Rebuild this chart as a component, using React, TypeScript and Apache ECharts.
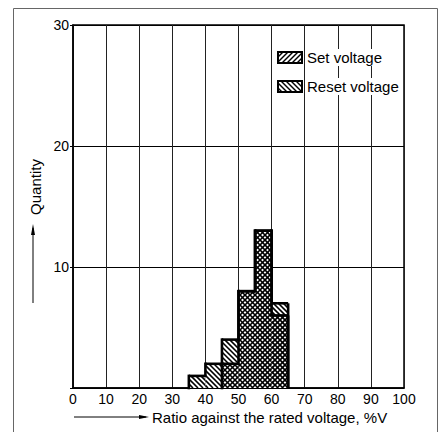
import React, { useEffect, useRef } from "react";
import * as echarts from "echarts";

const binStarts = [35, 40, 45, 50, 55, 60];
const binWidth = 5;
const resetVoltage = [1, 2, 4, 8, 13, 7];
const setVoltage = [0, 0, 2, 8, 13, 6];
const xTicks = [0, 10, 20, 30, 40, 50, 60, 70, 80, 90, 100];
const yTicks = [0, 10, 20, 30];

const FONT = "Liberation Sans, Arial, Helvetica, sans-serif";
const HATCH = 5;

type Seg = [number, number, number, number];

// dir = 1: "////" lines (x + y = c); dir = -1: "\\\\" lines (x - y = c)
function hatchSegments(x0: number, y0: number, x1: number, y1: number, dir: number, step: number): Seg[] {
  const segs: Seg[] = [];
  if (x1 - x0 <= 0.5 || y1 - y0 <= 0.5) return segs;
  if (dir === 1) {
    const cMin = x0 + y0, cMax = x1 + y1;
    for (let c = Math.ceil(cMin / step) * step; c <= cMax; c += step) {
      const xs = Math.max(x0, c - y1), xe = Math.min(x1, c - y0);
      if (xe - xs > 0.3) segs.push([xs, c - xs, xe, c - xe]);
    }
  } else {
    const cMin = x0 - y1, cMax = x1 - y0;
    for (let c = Math.ceil(cMin / step) * step; c <= cMax; c += step) {
      const xs = Math.max(x0, c + y0), xe = Math.min(x1, c + y1);
      if (xe - xs > 0.3) segs.push([xs, xs - c, xe, xe - c]);
    }
  }
  return segs;
}

function makeRenderItem(values: number[], dir: number, fill: string) {
  return (params: any, api: any) => {
    const idx = params.dataIndex;
    const xa = api.value(0), xb = api.value(1), v = api.value(2);
    const prev = idx > 0 ? values[idx - 1] : 0;
    const isLast = idx === values.length - 1;
    const pBase = api.coord([xa, 0]);
    const pTop = api.coord([xb, v]);
    const pPrev = api.coord([xa, prev]);
    const x0 = pBase[0], x1 = pTop[0], yb = pBase[1], yt = pTop[1];
    const children: any[] = [];
    if (v > 0) {
      children.push({
        type: "rect",
        shape: { x: x0, y: yt, width: x1 - x0, height: yb - yt },
        style: { fill, stroke: "none" },
      });
      hatchSegments(x0, yt, x1, yb, dir, HATCH).forEach((s) => {
        children.push({
          type: "line",
          shape: { x1: s[0], y1: s[1], x2: s[2], y2: s[3] },
          style: { stroke: "#000", lineWidth: 1.6 },
        });
      });
      children.push({
        type: "line",
        shape: { x1: x0, y1: yt, x2: x1, y2: yt },
        style: { stroke: "#000", lineWidth: 2.6 },
      });
      if (isLast) {
        children.push({
          type: "line",
          shape: { x1: x1, y1: yt, x2: x1, y2: yb },
          style: { stroke: "#000", lineWidth: 2.6 },
        });
      }
    }
    if (v !== prev) {
      children.push({
        type: "line",
        shape: { x1: x0, y1: Math.min(pPrev[1], yt), x2: x0, y2: Math.max(pPrev[1], yt) },
        style: { stroke: "#000", lineWidth: 2.6, lineCap: "square" },
      });
    }
    return { type: "group", children };
  };
}

function legendSwatch(x: number, y: number, w: number, h: number, dir: number) {
  const children: any[] = [
    { type: "rect", shape: { x, y, width: w, height: h }, style: { fill: "#fff", stroke: "none" } },
  ];
  hatchSegments(x, y, x + w, y + h, dir, 5).forEach((s) =>
    children.push({
      type: "line",
      shape: { x1: s[0], y1: s[1], x2: s[2], y2: s[3] },
      style: { stroke: "#000", lineWidth: 1.4 },
    })
  );
  children.push({
    type: "rect",
    shape: { x, y, width: w, height: h },
    style: { fill: "none", stroke: "#000", lineWidth: 2 },
  });
  return { type: "group", children, z: 10 };
}

export default function App() {
  const ref = useRef<HTMLDivElement>(null);
  useEffect(() => {
    if (!ref.current) return;
    const chart = echarts.init(ref.current, undefined, { renderer: "svg" });
    const resetData = binStarts.map((s, i) => [s, s + binWidth, resetVoltage[i]]);
    const setData = binStarts.map((s, i) => [s, s + binWidth, setVoltage[i]]);
    chart.setOption({
      animation: false,
      backgroundColor: "#fff",
      grid: { left: 73, top: 25, width: 331, height: 363, show: true, borderColor: "#000", borderWidth: 1.5 },
      xAxis: {
        type: "value",
        min: 0,
        max: 100,
        interval: 10,
        axisLine: { show: true, lineStyle: { color: "#000", width: 1.5 } },
        axisTick: { show: false },
        axisLabel: {
          color: "#000",
          fontFamily: FONT,
          fontSize: 14,
          margin: 4,
          lineHeight: 14,
          formatter: (v: number) => (xTicks.includes(v) ? String(v) : ""),
        },
        splitLine: { show: true, lineStyle: { color: "#222", width: 1 } },
      },
      yAxis: {
        type: "value",
        min: 0,
        max: 30,
        interval: 10,
        axisLine: { show: true, lineStyle: { color: "#000", width: 1.5 } },
        axisTick: { show: true, length: 3, lineStyle: { color: "#000" } },
        axisLabel: {
          color: "#000",
          fontFamily: FONT,
          fontSize: 14,
          margin: 4,
          formatter: (v: number) => (v === 0 || !yTicks.includes(v) ? "" : String(v)),
        },
        splitLine: { show: true, lineStyle: { color: "#000", width: 1 } },
      },
      series: [
        {
          name: "Reset voltage",
          type: "custom",
          renderItem: makeRenderItem(resetVoltage, -1, "#fff"),
          encode: { x: [0, 1], y: 2 },
          data: resetData,
          z: 3,
        },
        {
          name: "Set voltage",
          type: "custom",
          renderItem: makeRenderItem(setVoltage, 1, "rgba(0,0,0,0)"),
          encode: { x: [0, 1], y: 2 },
          data: setData,
          z: 4,
        },
      ],
      graphic: [
        {
          type: "rect",
          shape: { x: 13.5, y: 8.5, width: 424, height: 440 },
          style: { fill: "none", stroke: "#666", lineWidth: 1 },
          silent: true,
        },
        legendSwatch(278, 52, 24, 11, 1),
        {
          type: "text",
          x: 306,
          y: 57.5,
          z: 10,
          style: {
            text: "Set voltage",
            font: `15px ${FONT}`,
            fill: "#000",
            verticalAlign: "middle",
            backgroundColor: "#fff",
            padding: [1, 2, 1, 1],
          },
        },
        legendSwatch(278, 81, 24, 11, -1),
        {
          type: "text",
          x: 306,
          y: 86.5,
          z: 10,
          style: {
            text: "Reset voltage",
            font: `15px ${FONT}`,
            fill: "#000",
            verticalAlign: "middle",
            backgroundColor: "#fff",
            padding: [1, 1, 1, 1],
          },
        },
        // x-axis name with arrow
        { type: "line", shape: { x1: 74, y1: 417, x2: 146, y2: 417 }, style: { stroke: "#000", lineWidth: 1 } },
        { type: "polygon", shape: { points: [[139, 415], [149, 417], [139, 419]] }, style: { fill: "#000" } },
        {
          type: "text",
          x: 152,
          y: 417,
          style: { text: "Ratio against the rated voltage, %V", font: `15px ${FONT}`, fill: "#000", verticalAlign: "middle" },
        },
        // y-axis name with arrow
        { type: "line", shape: { x1: 33, y1: 303, x2: 33, y2: 228 }, style: { stroke: "#000", lineWidth: 1 } },
        { type: "polygon", shape: { points: [[31, 235], [33, 224], [35, 235]] }, style: { fill: "#000" } },
        {
          type: "text",
          x: 35,
          y: 187,
          rotation: Math.PI / 2,
          style: {
            text: "Quantity",
            font: `15px ${FONT}`,
            fill: "#000",
            align: "center",
            verticalAlign: "middle",
          },
        },
      ],
    });
    return () => chart.dispose();
  }, []);
  return <div ref={ref} style={{ width: 441, height: 432, position: "absolute", left: 0, top: 0 }} />;
}
